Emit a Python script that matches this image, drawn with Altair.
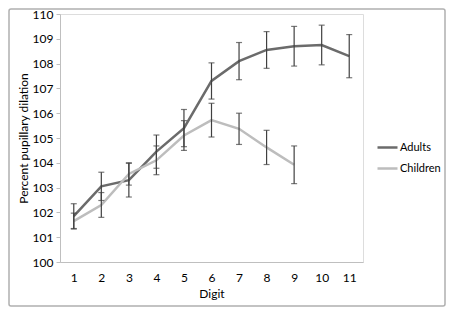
import altair as alt
import pandas as pd

digits = list(range(1, 12))
adults = [101.85, 103.05, 103.3, 104.45, 105.4, 107.3, 108.1, 108.55, 108.7, 108.75, 108.3]
adults_err = [0.5, 0.57, 0.68, 0.67, 0.75, 0.73, 0.75, 0.74, 0.8, 0.8, 0.87]
children = [101.65, 102.3, 103.55, 104.1, 105.1, 105.72, 105.37, 104.62, 103.92]
children_err = [0.32, 0.5, 0.45, 0.58, 0.6, 0.68, 0.63, 0.69, 0.76]
groups = ["Adults", "Children"]
colors = ["#6b6b6b", "#bdbdbd"]
y_ticks = list(range(100, 111))

rows = []
for d, v, e in zip(digits, adults, adults_err):
    rows.append({"digit": d, "group": "Adults", "value": v, "lo": v - e, "hi": v + e})
for d, v, e in zip(digits, children, children_err):
    rows.append({"digit": d, "group": "Children", "value": v, "lo": v - e, "hi": v + e})
df = pd.DataFrame(rows)

FONT = "Lato"

yscale = alt.Scale(domain=[100, 110], nice=False, zero=False)
xscale = alt.Scale(type="point", padding=0.5)
xaxis = alt.Axis(title="Digit", labelAngle=0, ticks=False, domainColor="#bfbfbf",
                 labelPadding=10, titlePadding=5, labelFontSize=12, titleFontSize=12,
                 titleFontWeight="normal", labelColor="#000", titleColor="#000")
yaxis = alt.Axis(title="Percent pupillary dilation", values=y_ticks, labelOverlap=False,
                 tickSize=4, tickColor="#bfbfbf", domainColor="#bfbfbf", grid=False,
                 labelPadding=3, titlePadding=2, labelFontSize=12, titleFontSize=12,
                 titleFontWeight="normal", labelColor="#000", titleColor="#000")


def X():
    return alt.X("digit:O", scale=xscale, axis=xaxis, title="Digit")


def Y(field):
    return alt.Y(field, scale=yscale, axis=yaxis, title="Percent pupillary dilation")


base = alt.Chart(df)

lines = base.mark_line(strokeWidth=2.5).encode(
    x=X(), y=Y("value:Q"),
    color=alt.Color("group:N", scale=alt.Scale(domain=groups, range=colors),
                    legend=alt.Legend(title=None, orient="none", legendX=316, legendY=122,
                                      symbolType="stroke", symbolSize=400, symbolStrokeWidth=2.5,
                                      labelFontSize=11, labelOffset=1, rowPadding=4,
                                      labelColor="#000")),
    detail="group:N",
)

rules = base.mark_rule(color="#404040", strokeWidth=1.2).encode(
    x=X(), y=Y("lo:Q"), y2="hi:Q")
caps_lo = base.mark_tick(color="#404040", thickness=1.2, size=6, orient="horizontal").encode(
    x=X(), y=Y("lo:Q"))
caps_hi = base.mark_tick(color="#404040", thickness=1.2, size=6, orient="horizontal").encode(
    x=X(), y=Y("hi:Q"))

border = alt.Chart(pd.DataFrame({"a": [0]})).mark_rect(
    fill=None, stroke="#b0b0b0", strokeWidth=1.5, cornerRadius=2, clip=False
).encode(x=alt.value(-51), x2=alt.value(385), y=alt.value(-5), y2=alt.value(292))

chart = alt.layer(border, lines, rules, caps_lo, caps_hi).properties(
    width=303, height=248,
    autosize=alt.AutoSizeParams(type="none"),
    padding={"left": 52, "top": 6, "right": 83, "bottom": 45},
    background="white",
).configure_view(strokeWidth=0).configure(font=FONT)

chart.save("out.html", embed_options={"renderer": "svg", "actions": False})
